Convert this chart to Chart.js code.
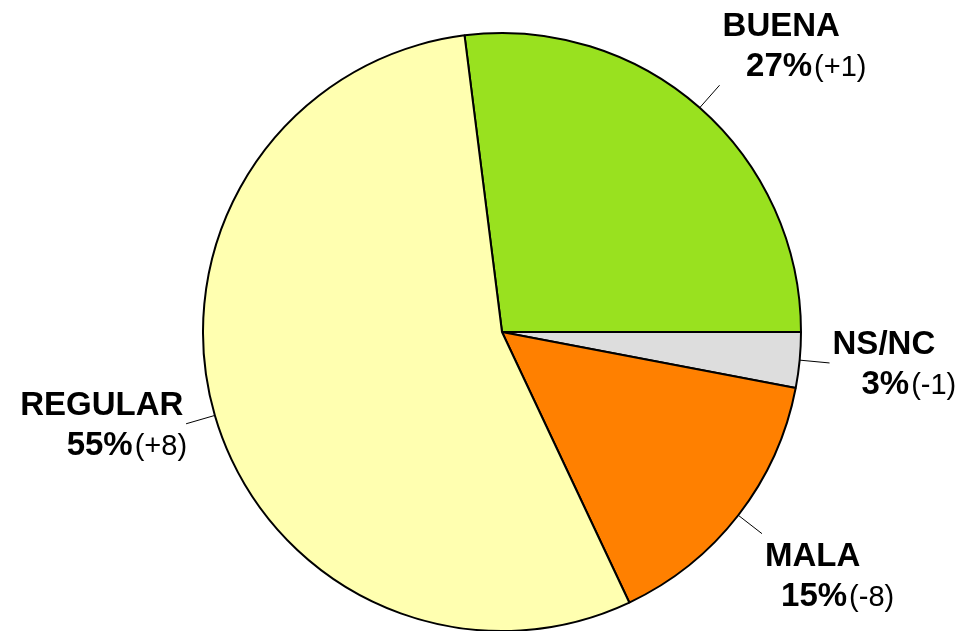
<!DOCTYPE html>
<html>
<head>
<meta charset="utf-8">
<script src="https://cdn.jsdelivr.net/npm/chart.js@4"></script>
<style>
  html, body { margin: 0; padding: 0; background: #fff; }
  #wrap { width: 960px; height: 631px; }
</style>
</head>
<body>
<div id="wrap"><canvas id="chart-opinion"></canvas></div>
<script>
const categories = ['BUENA', 'NS/NC', 'MALA', 'REGULAR'];
const percents   = [27, 3, 15, 55];
const changes    = ['(+1)', '(-1)', '(-8)', '(+8)'];
const colors     = ['#99E11F', '#DDDDDD', '#FF8000', '#FFFFB0'];

const BOLD = 'bold 33px "Liberation Sans", Arial, sans-serif';
const REG  = '29px "Liberation Sans", Arial, sans-serif';

// outside labels with short radial leader lines
const outsideLabels = {
  id: 'outsideLabels',
  afterDatasetsDraw(chart) {
    const ctx = chart.ctx;
    const arcs = chart.getDatasetMeta(0).data;
    ctx.save();
    arcs.forEach((arc, i) => {
      const { x, y, startAngle, endAngle, outerRadius } = arc.getProps(['x', 'y', 'startAngle', 'endAngle', 'outerRadius'], true);
      const mid = (startAngle + endAngle) / 2;
      const cx = Math.cos(mid), cy = Math.sin(mid);
      const x0 = x + outerRadius * cx, y0 = y + outerRadius * cy;
      const x1 = x + (outerRadius + 30) * cx, y1 = y + (outerRadius + 30) * cy;

      ctx.strokeStyle = '#000';
      ctx.lineWidth = 1;
      ctx.beginPath();
      ctx.moveTo(x0, y0);
      ctx.lineTo(x1, y1);
      ctx.stroke();

      const pct = percents[i] + '%';
      ctx.font = BOLD;
      const w1 = ctx.measureText(categories[i]).width;
      const wp = ctx.measureText(pct).width;
      ctx.font = REG;
      const wd = ctx.measureText(changes[i]).width;
      const w2 = wp + 2 + wd;

      let c;
      if (cx >= 0) c = x1 + 3 + Math.max(w1 / 2, w2 / 2 - 25);
      else c = x1 + 1 - Math.max(w1 / 2, 25 + w2 / 2);

      let top;
      if (cy < -0.5) top = y1 - 80;
      else if (cy > 0.5) top = y1 + 1;
      else top = y1 - 40;

      ctx.fillStyle = '#000';
      ctx.textBaseline = 'alphabetic';
      ctx.textAlign = 'left';
      ctx.font = BOLD;
      ctx.fillText(categories[i], c - w1 / 2, top + 31);
      const l2 = c + 25 - w2 / 2;
      ctx.fillText(pct, l2, top + 71);
      ctx.font = REG;
      ctx.fillText(changes[i], l2 + wp + 2, top + 71);
    });
    ctx.restore();
  }
};

new Chart(document.getElementById('chart-opinion'), {
  type: 'pie',
  data: {
    labels: categories,
    datasets: [{
      data: percents,
      backgroundColor: colors,
      borderColor: '#000',
      borderWidth: 2
    }]
  },
  options: {
    responsive: true,
    maintainAspectRatio: false,
    animation: false,
    rotation: -7.2,
    radius: 299,
    layout: { padding: { left: 44, right: 0, top: 33, bottom: 0 } },
    plugins: {
      legend: { display: false },
      tooltip: { enabled: false }
    }
  },
  plugins: [outsideLabels]
});
</script>
</body>
</html>
